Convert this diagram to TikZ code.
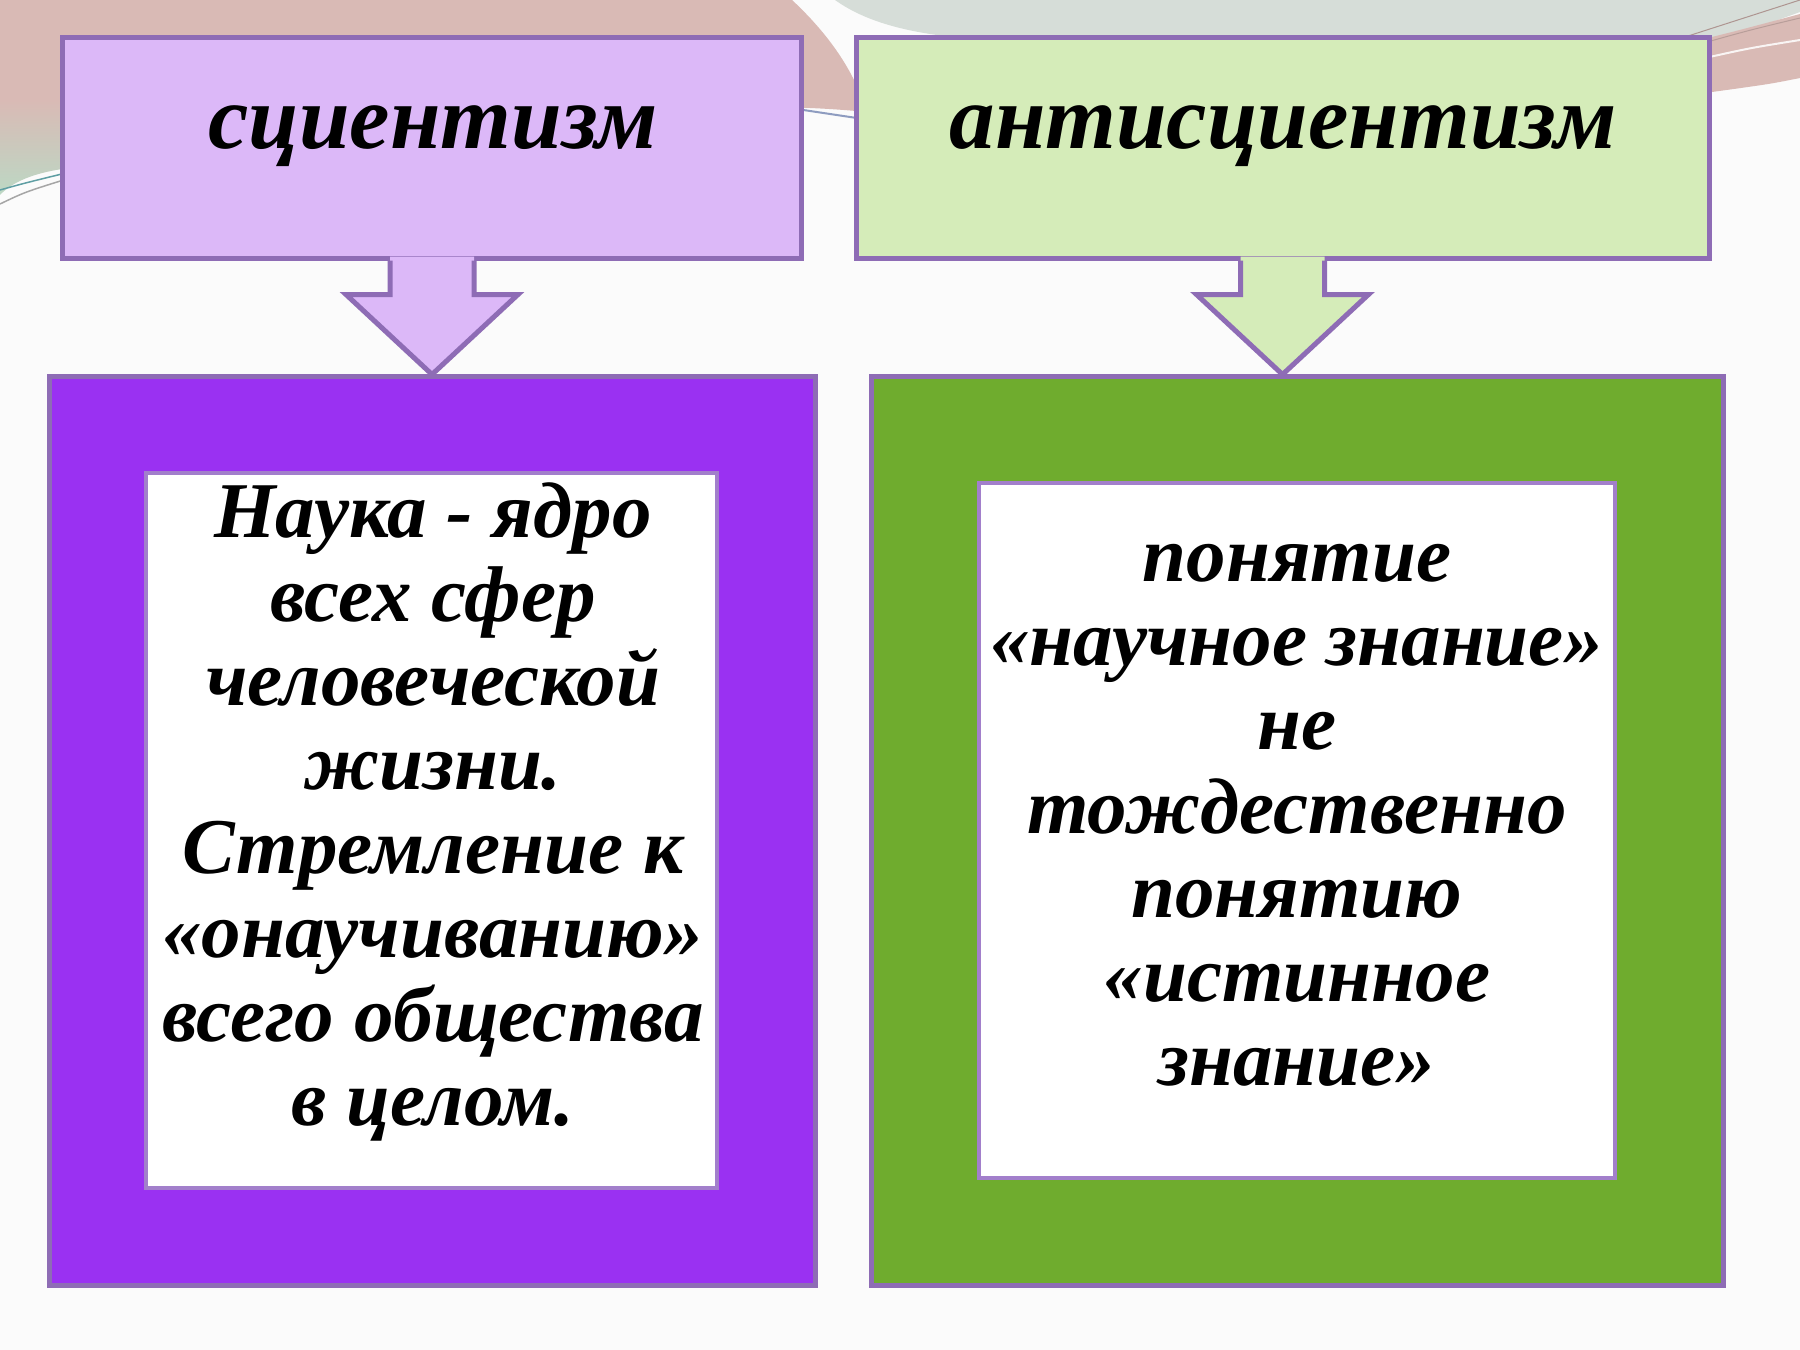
\documentclass[tikz,border=0pt]{standalone}
\usepackage{fontspec}
\setmainfont{Liberation Serif}
\usetikzlibrary{calc}
\definecolor{bgc}{HTML}{FBFBFB}
\definecolor{pinkc}{HTML}{D9BAB5}
\definecolor{greenc}{HTML}{BCD8C4}
\definecolor{greyc}{HTML}{D6DDD8}
\definecolor{bordc}{HTML}{8E6CB5}
\definecolor{innerbord}{HTML}{A27FCB}
\definecolor{lavc}{HTML}{DCB8F8}
\definecolor{lgreenc}{HTML}{D5ECB9}
\definecolor{violc}{HTML}{9A31F2}
\definecolor{grassc}{HTML}{6FAC2E}
\definecolor{linec}{HTML}{8E9CC0}
\definecolor{tealc}{HTML}{5E9EA3}
\tikzset{
  topbox/.style={draw=bordc, line width=5bp, inner sep=0pt},
  bigbox/.style={draw=bordc, line width=5bp, inner sep=0pt},
  whitebox/.style={draw=innerbord, fill=white, line width=4bp, inner sep=0pt},
  titletext/.style={inner sep=0pt, anchor=base, font=\fontsize{91bp}{96bp}\selectfont\bfseries\itshape},
  bodytext/.style={inner sep=0pt, align=center, font=\fontsize{79bp}{84bp}\selectfont\bfseries\itshape},
  arrowline/.style={draw=bordc, line width=5bp, line join=miter}
}
\begin{document}
\begin{tikzpicture}[x=1bp,y=-1bp]
\useasboundingbox (0,0) rectangle (1800,1350);
\fill[bgc] (0,0) rectangle (1800,1350);
% background decoration
\fill[pinkc] (0,0) -- (792,0) .. controls (835,40) and (858,80) .. (866,112)
  .. controls (800,105) and (700,105) .. (600,110) -- (0,110) -- cycle;
\shade[top color=pinkc, bottom color=greenc] (0,100) -- (70,100) -- (70,168)
  .. controls (35,172) and (12,182) .. (0,195) -- cycle;
\draw[tealc, line width=1.5bp] (0,190) .. controls (25,183) .. (70,172);
\draw[gray!70, line width=1.5bp] (0,204) .. controls (25,192) .. (70,178);
\fill[greyc] (835,0) .. controls (870,25) and (920,36) .. (990,40) -- (1720,40)
  .. controls (1750,30) .. (1800,12) -- (1800,0) -- cycle;
\fill[pinkc] (1700,40) .. controls (1740,30) .. (1800,14) -- (1800,78)
  .. controls (1770,84) .. (1712,92) -- cycle;
\draw[pinkc!80!black, line width=1bp] (1688,36) -- (1800,0);
\draw[pinkc!85!black, line width=1bp] (1700,44) .. controls (1750,30) .. (1800,18);
\draw[white!85!pinkc, line width=2bp] (1705,58) .. controls (1750,48) .. (1800,40);
\draw[linec, line width=2bp] (790,108) -- (870,120);
% top boxes
\node[topbox, fill=lavc, minimum width=738bp, minimum height=220bp] (tl) at (432,148) {};
\node[topbox, fill=lgreenc, minimum width=853bp, minimum height=220bp] (tr) at (1282.5,148) {};
% big boxes
\node[bigbox, fill=violc, minimum width=765bp, minimum height=908bp] (bl) at (432.5,831) {};
\node[bigbox, fill=grassc, minimum width=852bp, minimum height=908bp] (br) at (1297,831) {};
% inner white boxes
\node[whitebox, minimum width=571bp, minimum height=715bp] (wl) at (431.5,830.5) {};
\node[whitebox, minimum width=636bp, minimum height=695bp] (wr) at (1297,830.5) {};
% block arrows
\coordinate (tipl) at (tl.south |- bl.north);
\coordinate (tipr) at (tr.south |- br.north);
\foreach \src/\tip/\col in {tl/tipl/lavc, tr/tipr/lgreenc}{
  \fill[\col] ($(\src.south)+(-42,-4)$) -- ($(\src.south)+(-42,34)$) -- ($(\src.south)+(-86,34)$)
     -- (\tip) -- ($(\src.south)+(86,34)$) -- ($(\src.south)+(42,34)$) -- ($(\src.south)+(42,-4)$) -- cycle;
  \draw[arrowline] ($(\src.south)+(-42,0)$) -- ($(\src.south)+(-42,34)$) -- ($(\src.south)+(-86,34)$)
     -- (\tip) -- ($(\src.south)+(86,34)$) -- ($(\src.south)+(42,34)$) -- ($(\src.south)+(42,0)$);
}
% texts
\node[titletext] (tlt) at (433,149) {сциентизм};
\node[titletext] (trt) at (1283,149) {антисциентизм};
\node[bodytext] (blt) at (433,812) {Наука - ядро\\всех сфер\\человеческой\\жизни.\\Стремление к\\«онаучиванию»\\всего общества\\в целом.};
\node[bodytext] (brt) at (1297,815) {понятие\\«научное знание»\\не\\тождественно\\понятию\\«истинное\\знание»};
\end{tikzpicture}
\end{document}
